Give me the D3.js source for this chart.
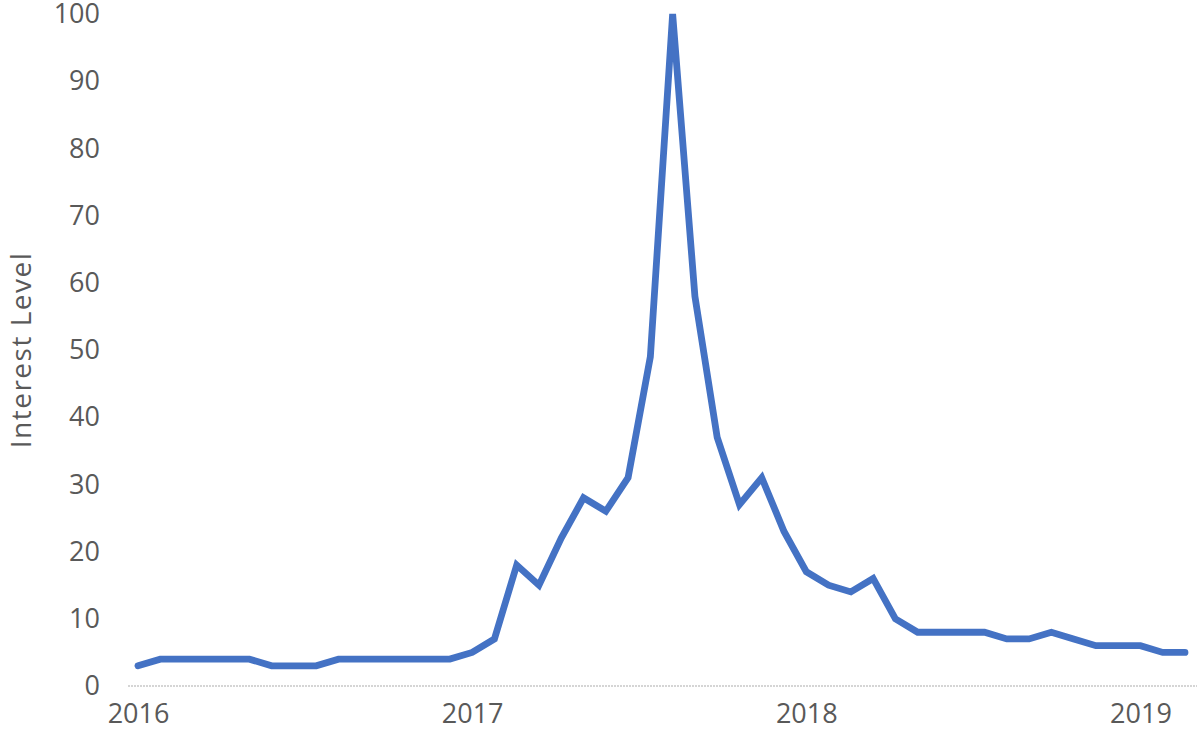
<!DOCTYPE html>
<html>
<head>
<meta charset="utf-8">
<script src="https://cdn.jsdelivr.net/npm/d3@7"></script>
<style>
    body { margin: 0; background: #fff; }
    text { font-family: "Open Sans", sans-serif; fill: #595959; }
</style>
</head>
<body>
<div id="chart"></div>
<script>
// interest values, one per sample point (48 points, 2016 -> early 2019)
var interest = [3, 4, 4, 4, 4, 4, 3, 3, 3, 4, 4, 4, 4, 4, 4, 5,
    7, 18, 15, 22, 28, 26, 31, 49, 100, 58, 37, 27, 31, 23, 17, 15,
    14, 16, 10, 8, 8, 8, 8, 7, 7, 8, 7, 6, 6, 6, 5, 5];

// year labels and the sample index they sit under
var yearLabels = ['2016', '2017', '2018', '2019'];
var yearIndex = [0, 15, 30, 45];

var yTicks = [0, 10, 20, 30, 40, 50, 60, 70, 80, 90, 100];

var width = 1200,
    height = 730;

var svg = d3.select('#chart')
    .append('svg')
    .attr('width', width)
    .attr('height', height);

var x = d3.scaleLinear()
    .domain([0, interest.length - 1])
    .range([138, 1185]);

var y = d3.scaleLinear()
    .domain([0, 100])
    .range([686, 14]);

// y axis: labels only, no line and no ticks
var yAxis = svg.append('g')
    .attr('transform', 'translate(112,0)')
    .call(d3.axisLeft(y).tickValues(yTicks).tickSize(0).tickPadding(12));
yAxis.select('.domain').remove();
yAxis.selectAll('text')
    .style('font-size', '27px')
    .style('font-family', '"Open Sans", sans-serif')
    .attr('fill', '#595959');

// x axis: year labels under the dotted base line
var xAxis = svg.append('g')
    .attr('transform', 'translate(0,686)')
    .call(d3.axisBottom(x)
        .tickValues(yearIndex)
        .tickFormat(function (d, i) {
            return yearLabels[i]
        })
        .tickSize(0)
        .tickPadding(18));
xAxis.select('.domain').remove();
xAxis.selectAll('text')
    .style('font-size', '27px')
    .style('font-family', '"Open Sans", sans-serif')
    .attr('fill', '#595959');

// base line
svg.append('line')
    .attr('x1', 128)
    .attr('x2', 1197)
    .attr('y1', y(0))
    .attr('y2', y(0))
    .style('stroke', '#c8c8c8')
    .style('stroke-width', 1.5)
    .style('stroke-dasharray', '2,1');

// axis title
svg.append('text')
    .attr('transform', 'translate(31,350) rotate(-90)')
    .attr('text-anchor', 'middle')
    .style('font-size', '28px')
    .style('letter-spacing', '1.5px')
    .text('Interest Level');

var line = d3.line()
    .x(function (d, i) {
        return x(i)
    })
    .y(function (d) {
        return y(d)
    });

svg.append('path')
    .datum(interest)
    .attr('d', line)
    .style('fill', 'none')
    .style('stroke', '#4472C4')
    .style('stroke-width', 6.8)
    .style('stroke-linecap', 'round');
</script>
</body>
</html>
